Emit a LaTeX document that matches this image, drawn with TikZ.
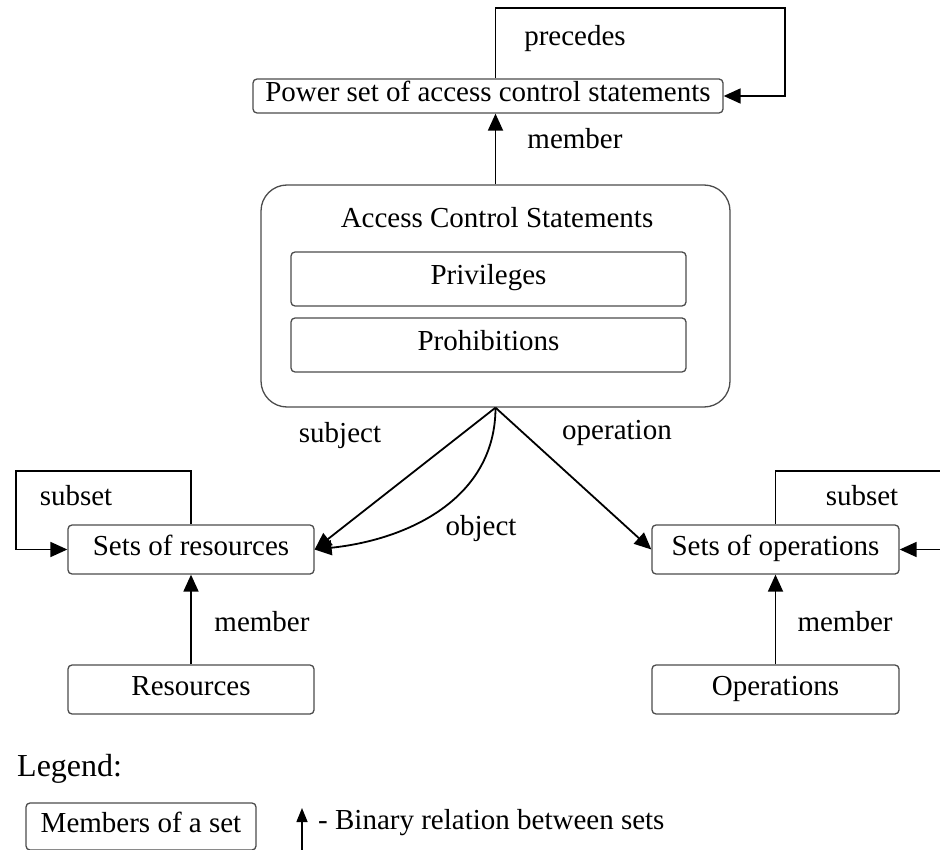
\documentclass[tikz,border=0pt]{standalone}
\usepackage{fontspec}
\setmainfont{Liberation Serif}
\usetikzlibrary{arrows.meta, positioning, calc}

\begin{document}
\begin{tikzpicture}[
		x=1pt, y=-1pt,
		font=\fontsize{29}{33}\selectfont,
		% --- ESTILOS ---
		setbox/.style = {draw=black!70, line width=1.3pt, rectangle, rounded corners=4pt, minimum height=49pt, minimum width=246pt, inner sep=0pt, align=center, text height=19pt, text depth=8pt},
		acsbox/.style = {draw=black!70, line width=1.3pt, rectangle, rounded corners=26pt, minimum width=469pt, minimum height=222pt, inner sep=0pt},
		lbl/.style = {inner sep=0pt, text height=19pt, text depth=8pt},
		rel/.style = {line width=1.8pt, -{Triangle[length=17pt, width=15pt]}},
		]
		
		% --- MARCO ---
		\clip (0,0) rectangle (940,850);
		
		% --- BLOQUES SUPERIORES ---
		\node [setbox, minimum width=470pt, minimum height=34pt] (pset) at (488,96) {Power set of access control statements};
		\node [acsbox] (acs) at (495.5,296) {};
		\node [lbl] (acs_title) at (497,222) {Access Control Statements};
		\node [setbox, minimum width=395pt, minimum height=54pt] (priv) at (488.5,279) {Privileges};
		\node [setbox, minimum width=395pt, minimum height=54pt] (proh) at (488.5,345) {Prohibitions};
		
		% --- CONJUNTOS ---
		\node [setbox] (setres) at (191,549.5) {Sets of resources};
		\node [setbox] (res) at (191,689.5) {Resources};
		\node [setbox, minimum width=247pt] (setops) at (775.5,549.5) {Sets of operations};
		\node [setbox, minimum width=247pt] (ops) at (775.5,689.5) {Operations};
		
		% --- PUNTOS DE LOS LAZOS ---
		\coordinate (prec_r) at (785,8);
		\coordinate (sub_l) at (16,471);
		\coordinate (sub_r) at (945,471);
		
		% --- RELACIONES ---
		\draw [rel] (acs.north) -- (acs.north |- pset.south);
		\draw [rel] (acs.north |- pset.north) |- (prec_r) |- (pset.east);
		
		\draw [rel] (acs.south) -- (setres.east);
		\draw [rel] (acs.south) .. controls +(0,90) and +(95,-10) .. (setres.east);
		\draw [rel] (acs.south) -- (setops.west);
		
		\draw [rel] (setres.north) |- (sub_l) |- (setres.west);
		\draw [rel] (setops.north) |- (sub_r) |- (setops.east);
		
		\draw [rel] (res) -- (setres);
		\draw [rel] (ops) -- (setops);
		
		% --- ETIQUETAS ---
		\node [lbl] (l_prec) at (575,40) {precedes};
		\node [lbl] (l_mem_top) at (575,143) {member};
		\node [lbl] (l_subj) at (340,437) {subject};
		\node [lbl] (l_obj) at (481,530) {object};
		\node [lbl] (l_oper) at (617,434) {operation};
		\node [lbl] (l_sub_l) at (76,500) {subset};
		\node [lbl] (l_sub_r) at (862,500) {subset};
		\node [lbl] (l_mem_l) at (262,626) {member};
		\node [lbl] (l_mem_r) at (845,626) {member};
		
		% --- LEYENDA ---
		\node [lbl, anchor=west, font=\fontsize{32}{36}\selectfont, text height=21pt, text depth=9pt] (leg) at (17,770) {Legend:};
		\node [setbox, minimum width=230pt, minimum height=47pt] (legbox) at (141,826.5) {Members of a set};
		\coordinate (leg_a) at (302,852);
		\coordinate (leg_b) at (302,808);
		\draw [line width=1.5pt, -{Triangle[length=14pt, width=11pt]}] (leg_a) -- (leg_b);
		\node [lbl, anchor=west] (leg_txt) at (318,824) {- Binary relation between sets};
		
	\end{tikzpicture}
\end{document}
